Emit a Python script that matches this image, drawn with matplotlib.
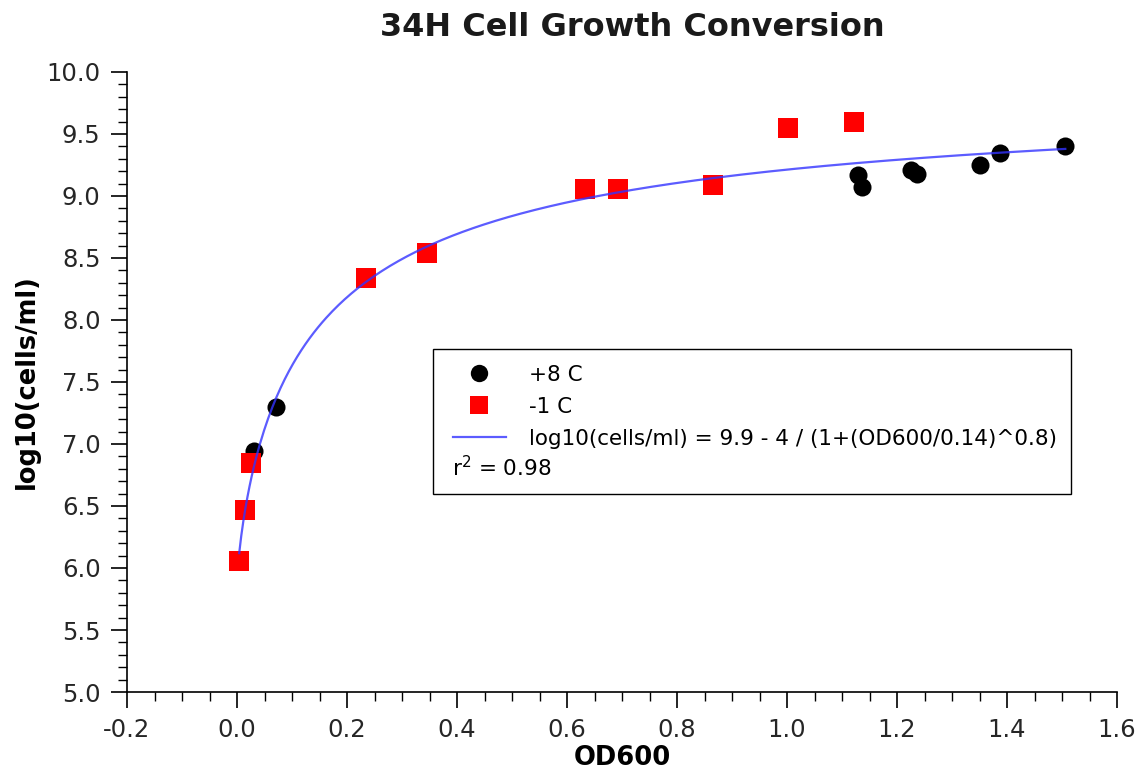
import numpy as np
import matplotlib
matplotlib.use("Agg")
import matplotlib.pyplot as plt
from matplotlib.lines import Line2D
from matplotlib.patches import Rectangle
from matplotlib.ticker import MultipleLocator

# +8 C measurements
od_warm = [0.030, 0.070, 1.129, 1.137, 1.226, 1.237, 1.350, 1.387, 1.506]
logc_warm = [6.94, 7.30, 9.17, 9.07, 9.21, 9.18, 9.25, 9.35, 9.40]

# -1 C measurements
od_cold = [0.004, 0.015, 0.026, 0.235, 0.346, 0.632, 0.692, 0.865, 1.001, 1.121]
logc_cold = [6.06, 6.47, 6.85, 8.34, 8.54, 9.06, 9.06, 9.09, 9.55, 9.60]

# fitted model parameters: top - span / (1 + (OD/ec)^slope)
fit_top = 9.9
fit_span = 4.0
fit_ec = 0.14
fit_slope = 0.8
r_squared = 0.98

x_ticks = [-0.2, 0.0, 0.2, 0.4, 0.6, 0.8, 1.0, 1.2, 1.4, 1.6]
y_ticks = [5.0, 5.5, 6.0, 6.5, 7.0, 7.5, 8.0, 8.5, 9.0, 9.5, 10.0]

text_col = "#262626"
fit_col = "#3333ff"

W, H = 1142, 770
fig = plt.figure(figsize=(W / 100, H / 100), dpi=100)
ax_l, ax_r, ax_t, ax_b = 127, 1117, 72, 692
ax = fig.add_axes([ax_l / W, 1 - ax_b / H, (ax_r - ax_l) / W, (ax_b - ax_t) / H])


def px_to_axes(px, py):
    return (px - ax_l) / (ax_r - ax_l), (ax_b - py) / (ax_b - ax_t)


all_od = np.array(od_warm + od_cold)
xf = np.linspace(all_od.min(), all_od.max(), 400)
yf = fit_top - fit_span / (1 + (xf / fit_ec) ** fit_slope)

ax.scatter(od_warm, logc_warm, s=13 ** 2, marker="o", color="black",
           zorder=3, linewidths=0)
ax.scatter(od_cold, logc_cold, s=14.5 ** 2, marker="s", color="#ff0000",
           zorder=4, linewidths=0)
ax.plot(xf, yf, color=fit_col, alpha=0.8, lw=1.6, zorder=5)

ax.set_xlim(-0.2, 1.6)
ax.set_ylim(5.0, 10.0)
ax.set_xticks(x_ticks)
ax.set_yticks(y_ticks)
ax.set_xticklabels([f"{v:.1f}" for v in x_ticks])
ax.set_yticklabels([f"{v:.1f}" for v in y_ticks])
ax.xaxis.set_minor_locator(MultipleLocator(0.05))
ax.yaxis.set_minor_locator(MultipleLocator(0.1))

for side in ("top", "right"):
    ax.spines[side].set_visible(False)
for side in ("left", "bottom"):
    ax.spines[side].set_color("black")
    ax.spines[side].set_linewidth(1.2)

ax.tick_params(axis="both", which="major", direction="out", length=11.5,
               width=1.2, labelsize=17.5, labelcolor=text_col, pad=7.5)
ax.tick_params(axis="both", which="minor", direction="out", length=6.5,
               width=1.0)

ax.set_xlabel("OD600", fontsize=18.5, fontweight="bold", color="black",
              labelpad=2)
ax.set_ylabel("log10(cells/ml)", fontsize=18.5, fontweight="bold",
              color="black", labelpad=5)

fig.text(632 / W, 1 - 28 / H, "34H Cell Growth Conversion",
         ha="center", va="center", fontsize=23, fontweight="bold",
         color="#1a1a1a")

# legend box drawn as a plain rectangle so its extent is independent of padding
bx0, by0 = px_to_axes(433, 494)
bx1, by1 = px_to_axes(1071, 349)
ax.add_patch(Rectangle((bx0, by0), bx1 - bx0, by1 - by0, transform=ax.transAxes,
                       facecolor="white", edgecolor="black", lw=1.0,
                       zorder=8, clip_on=False))

handles = [
    Line2D([], [], ls="none", marker="o", markersize=12.5, color="black",
           markeredgewidth=0),
    Line2D([], [], ls="none", marker="s", markersize=12.5, color="#ff0000",
           markeredgewidth=0),
    Line2D([], [], color=fit_col, alpha=0.8, lw=1.6),
]
labels = [
    "+8 C",
    "-1 C",
    f"log10(cells/ml) = {fit_top:g} - {fit_span:g} / "
    f"(1+(OD600/{fit_ec:g})^{fit_slope:g})",
]
leg = ax.legend(handles, labels, loc="upper left",
                bbox_to_anchor=px_to_axes(453, 365), borderaxespad=0,
                fontsize=15.5, frameon=False, handlelength=2.45,
                handletextpad=1.07, borderpad=0, labelspacing=0.55)
leg.set_zorder(9)
for t in leg.get_texts():
    t.set_color("black")

rx, ry = px_to_axes(452, 468)
ax.text(rx, ry, f"r$^2$ = {r_squared:g}", transform=ax.transAxes,
        ha="left", va="center", fontsize=15.5, color="black", zorder=10)

fig.savefig("out.png", dpi=100)
